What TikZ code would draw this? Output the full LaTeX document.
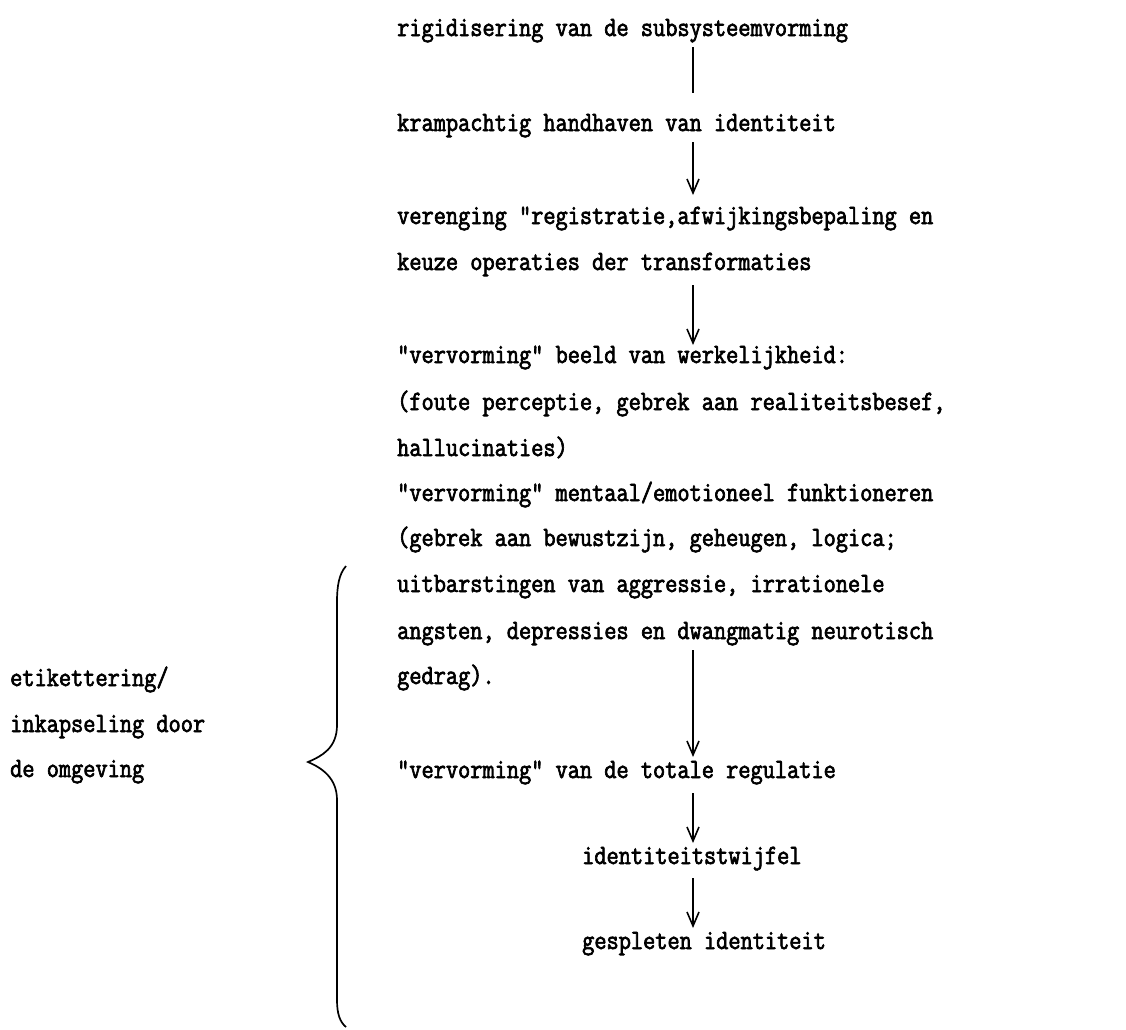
\documentclass[tikz,border=0pt]{standalone}
\usepackage{fontspec}
\setmonofont{Latin Modern Mono}[FakeBold=2.4,FakeStretch=0.845]
\usetikzlibrary{arrows.meta}
\tikzset{
  txt/.style={anchor=base west, inner sep=0pt, font=\ttfamily\fontsize{28}{46}\selectfont},
  conn/.style={line width=1.6pt},
  arr/.style={conn, -{Straight Barb[length=14pt,width=12pt,line width=1.6pt]}},
  brace/.style={line width=1.7pt}
}
\begin{document}
\begin{tikzpicture}[x=1pt,y=-1pt]
\useasboundingbox (0,0) rectangle (1126,1029);
\coordinate (ax) at (693,0);
% main column
\node[txt] (n1) at (397,36) {rigidisering van de subsysteemvorming};
\node[txt] (n2) at (397,131) {krampachtig handhaven van identiteit};
\node[txt] (n3a) at (397,224) {verenging "registratie,afwijkingsbepaling en};
\node[txt] (n3b) at (397,270) {keuze operaties der transformaties};
\node[txt] (n4a) at (397,363) {"vervorming" beeld van werkelijkheid:};
\node[txt] (n4b) at (397,410) {(foute perceptie, gebrek aan realiteitsbesef,};
\node[txt] (n4c) at (397,456) {hallucinaties)};
\node[txt] (n5a) at (397,501) {"vervorming" mentaal/emotioneel funktioneren};
\node[txt] (n5b) at (397,546) {(gebrek aan bewustzijn, geheugen, logica;};
\node[txt] (n5c) at (397,592) {uitbarstingen van aggressie, irrationele};
\node[txt] (n5d) at (397,639) {angsten, depressies en dwangmatig neurotisch};
\node[txt] (n5e) at (397,684) {gedrag).};
\node[txt] (n6) at (397,778) {"vervorming" van de totale regulatie};
\node[txt] (n7) at (582,864) {identiteitstwijfel};
\node[txt] (n8) at (582,949) {gespleten identiteit};
% left label
\node[txt] (l1) at (10,686) {etikettering/};
\node[txt] (l2) at (10,732) {inkapseling door};
\node[txt] (l3) at (10,777) {de omgeving};
% connectors
\draw[conn] ([yshift=-11pt]n1.base -| ax) -- ([yshift=38pt]n2.base -| ax);
\draw[arr] ([yshift=-11pt]n2.base -| ax) -- ([yshift=29pt]n3a.base -| ax);
\draw[arr] ([yshift=-15pt]n3b.base -| ax) -- ([yshift=18pt]n4a.base -| ax);
\draw[arr] ([yshift=-11pt]n5d.base -| ax) -- ([yshift=21pt]n6.base -| ax);
\draw[arr] ([yshift=-15pt]n6.base -| ax) -- ([yshift=21pt]n7.base -| ax);
\draw[arr] ([yshift=-14pt]n7.base -| ax) -- ([yshift=21pt]n8.base -| ax);
% brace
\draw[brace] (346,566) .. controls (339,574) and (337,586) .. (337,602)
  -- (337,725) .. controls (337,748) and (322,756) .. (308,762)
  .. controls (322,768) and (337,778) .. (337,800)
  -- (337,1000) .. controls (337,1014) and (340,1022) .. (346,1027);
\end{tikzpicture}
\end{document}
